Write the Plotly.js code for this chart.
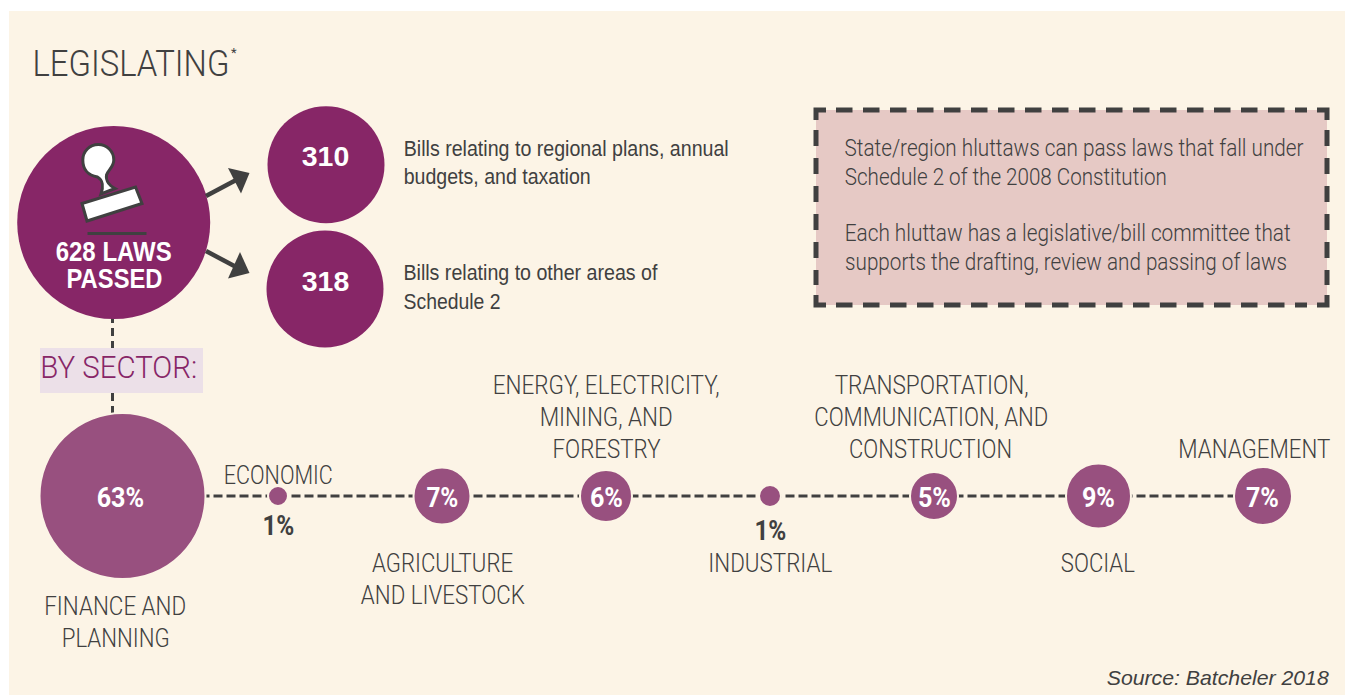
<!DOCTYPE html>
<html>
<head>
<meta charset="utf-8">
<script src="https://cdn.plot.ly/plotly-3.0.1.min.js"></script>
<style>html,body{margin:0;padding:0;background:#fff}#chart{width:1348px;height:695px}</style>
</head>
<body>
<div id="chart"></div>
<script>
// ---- data ----
const totalLaws = 628;
const billGroups = [310, 318];
const billDescriptions = [
  ['Bills relating to regional plans, annual', 'budgets, and taxation'],
  ['Bills relating to other areas of', 'Schedule 2']
];
const sectorNames = ['Finance', 'Economic', 'Agriculture', 'Energy', 'Industrial', 'Transport', 'Social', 'Management'];
const sectorShares = [63, 1, 7, 6, 1, 5, 9, 7];
const noteLines = [
  'State/region hluttaws can pass laws that fall under',
  'Schedule 2 of the 2008 Constitution',
  'Each hluttaw has a legislative/bill committee that',
  'supports the drafting, review and passing of laws'
];

// ---- layout geometry (axis units equal page pixels) ----
const sectorX = [122.5, 278, 442, 606, 770, 934, 1098.5, 1263];
const sectorY = 496;
const sectorDiam = [164, 18, 55, 50, 20, 46, 63, 56];
const billX = [326, 325], billY = [164.7, 289], billDiam = 117;
const totalX = 113.7, totalY = 222.5, totalDiam = 193;

const PANEL = '#fcf4e6', DARK = '#404040', PURPLE = '#872667', MID = '#98507f', BOX = '#e6c9c5';
const ROBOTO = 'Roboto, sans-serif';
const LIB = '"Liberation Sans", sans-serif';
const ann = [], widths = [];
// every label is centred on x and fitted to the reference's text width
function label(text, x, y, w, opt) {
  opt = opt || {};
  widths.push(w);
  ann.push({
    text: text, x: x, y: y, xref: 'x', yref: 'y', showarrow: false,
    xanchor: 'center', yanchor: 'middle',
    font: {family: opt.family || ROBOTO, size: opt.size || 25, color: opt.color || DARK,
           weight: opt.weight || 300, style: opt.style || 'normal'}
  });
}
label('LEGISLATING', 131, 63.5, 197, {size: 36});
label('*', 234, 52, 0, {size: 13, weight: 400});
label(totalLaws + ' LAWS', 113, 251.5, 116, {family: LIB, size: 28, weight: 700, color: '#fff'});
label('PASSED', 114, 278, 96, {family: LIB, size: 28, weight: 700, color: '#fff'});
const billTextY = [[148, 176], [272, 301]];
const billTextW = [[325, 187], [254, 97]];
billDescriptions.forEach((ls, i) => ls.forEach((t, j) =>
  label(t, 403.5 + billTextW[i][j] / 2, billTextY[i][j], billTextW[i][j], {family: LIB, size: 22, weight: 400})));
billGroups.forEach((v, i) => label(String(v), 325.5, [157, 282][i], 47.5,
  {family: LIB, size: 27, weight: 700, color: '#fff'}));
const noteY = [148, 177, 233.5, 262.5], noteW = [459, 322, 446, 442];
noteLines.forEach((t, i) => label(t, 844.5 + noteW[i] / 2, noteY[i], noteW[i], {size: 23}));
label('BY SECTOR:', 118.5, 367, 157, {size: 31, color: PURPLE});
[['ECONOMIC', 278.3, 475, 109], ['FINANCE AND', 115, 606, 142], ['PLANNING', 115.3, 638, 108],
 ['AGRICULTURE', 442.5, 563, 141], ['AND LIVESTOCK', 442.5, 595, 164],
 ['ENERGY, ELECTRICITY,', 606, 385, 227], ['MINING, AND', 606, 417, 133], ['FORESTRY', 606, 449, 108],
 ['INDUSTRIAL', 770, 563, 124],
 ['TRANSPORTATION,', 931, 385, 194], ['COMMUNICATION, AND', 931, 417, 234], ['CONSTRUCTION', 930.5, 449, 163],
 ['SOCIAL', 1098, 563, 74], ['MANAGEMENT', 1254, 449, 152]
].forEach(a => label(a[0], a[1], a[2], a[3]));
// percentage labels
const shareLabelX = [120.3, 278.5, 442, 606, 770, 934, 1098, 1262];
const shareLabelY = [497, 525, 497, 497, 530, 497, 497, 497];
const shareLabelW = [47.5, 32, 32, 33, 32, 33, 33, 33];
sectorShares.forEach((v, i) => label(v + '%', shareLabelX[i], shareLabelY[i], shareLabelW[i],
  {size: 28, weight: 700, color: v > 1 ? '#fff' : DARK}));
label('Source: Batcheler 2018', 1218, 677, 222, {family: LIB, size: 21, style: 'italic', weight: 400});

// ---- static shapes ----
const shapes = [];
function rect(x0, y0, x1, y1, fill, layer) {
  shapes.push({type: 'rect', xref: 'x', yref: 'y', x0, y0, x1, y1, fillcolor: fill, line: {width: 0}, layer: layer || 'below'});
}
function path(d, fill, stroke, w, layer) {
  shapes.push({type: 'path', xref: 'x', yref: 'y', path: d, fillcolor: fill, line: {color: stroke, width: w}, layer: layer || 'above'});
}
function seg(x0, y0, x1, y1, w, dash, layer) {
  shapes.push({type: 'line', xref: 'x', yref: 'y', x0, y0, x1, y1, line: {color: DARK, width: w, dash: dash || 'solid'}, layer: layer || 'above'});
}
rect(9, 11, 1345, 695, PANEL);
// note box
const bx0 = 816, bx1 = 1327, by0 = 110, by1 = 305;
rect(bx0, by0, bx1, by1, BOX);
[[bx0, by0, 1, 1], [bx1, by0, -1, 1], [bx1, by1, -1, -1], [bx0, by1, 1, -1]].forEach(c => {
  path(`M ${c[0] + 10 * c[2]} ${c[1]} L ${c[0]} ${c[1]} L ${c[0]} ${c[1] + 10 * c[3]}`, 'rgba(0,0,0,0)', DARK, 5);
});
const HD = '16.5px,10.5px', VD = '16px,12px';
seg(bx0 + 20, by0, bx1 - 20, by0, 5, HD);
seg(bx0 + 20, by1, bx1 - 20, by1, 5, HD);
seg(bx0, by0 + 20, bx0, by1 - 20, 5, VD);
seg(bx1, by0 + 20, bx1, by1 - 20, 5, VD);
// connector and highlight
seg(112.5, 315, 112.5, 416, 3, '8px,5px', 'below');
rect(40, 348, 203, 393, '#ece0e8');
// arrows
seg(206, 196, 238, 179, 4.5);
seg(206, 251, 238, 268, 4.5);
path('M 228 168 L 249.5 173 L 241 193.5 Z', DARK, DARK, 0);
path('M 240 252 L 249.5 273 L 228 278.5 Z', DARK, DARK, 0);
// stamp icon
path('M 101 194 C 103.5 187 103 180 97.5 177 C 88 175.5 82.8 169 82.8 160 C 82.8 151.4 89.7 144.5 98.3 144.5 C 106.9 144.5 113.8 151.4 113.8 160 C 113.8 167 108 170 106.5 175 C 105.5 181 110 186 115 188.5 Z', '#fff', DARK, 3);
path('M 82 203.5 L 135.5 187 L 142 203.5 L 87 221 Z', '#fff', DARK, 3);
seg(87.5, 233.5, 146.5, 233.5, 3);

const traces = [
  {type: 'scatter', mode: 'lines', x: sectorX, y: sectorX.map(() => sectorY),
   line: {color: DARK, width: 3, dash: '9px,4px'}, hoverinfo: 'skip'},
  {type: 'scatter', mode: 'markers', x: sectorX, y: sectorX.map(() => sectorY), text: sectorNames,
   marker: {size: sectorDiam.map(d => d + 2), color: MID, opacity: 1, line: {color: PANEL, width: 2}}},
  {type: 'scatter', mode: 'markers', x: billX.concat([totalX]), y: billY.concat([totalY]),
   marker: {size: [billDiam, billDiam, totalDiam], color: PURPLE, opacity: 1, line: {width: 0}}}
];
const layout = {
  width: 1348, height: 695, margin: {l: 0, r: 0, t: 0, b: 0, pad: 0}, showlegend: false,
  paper_bgcolor: '#ffffff', plot_bgcolor: 'rgba(0,0,0,0)', hovermode: false,
  xaxis: {range: [0, 1348], visible: false, fixedrange: true},
  yaxis: {range: [695, 0], visible: false, fixedrange: true},
  shapes, annotations: ann
};
Plotly.newPlot('chart', traces, layout, {displayModeBar: false, staticPlot: true}).then(() => {
  document.querySelectorAll('.annotation').forEach(g => {
    const i = +g.getAttribute('data-index');
    const t = g.querySelector('.annotation-text');
    if (t && widths[i] > 0) {
      t.setAttribute('textLength', widths[i]);
      t.setAttribute('lengthAdjust', 'spacingAndGlyphs');
      // keep the annotation's invisible box in step with the fitted text
      g.querySelectorAll('rect').forEach(r => {
        const w0 = +r.getAttribute('width');
        const x0 = +(r.getAttribute('x') || 0);
        r.setAttribute('x', x0 + (w0 - widths[i]) / 2);
        r.setAttribute('width', widths[i]);
      });
    }
  });
});
</script>
</body>
</html>
